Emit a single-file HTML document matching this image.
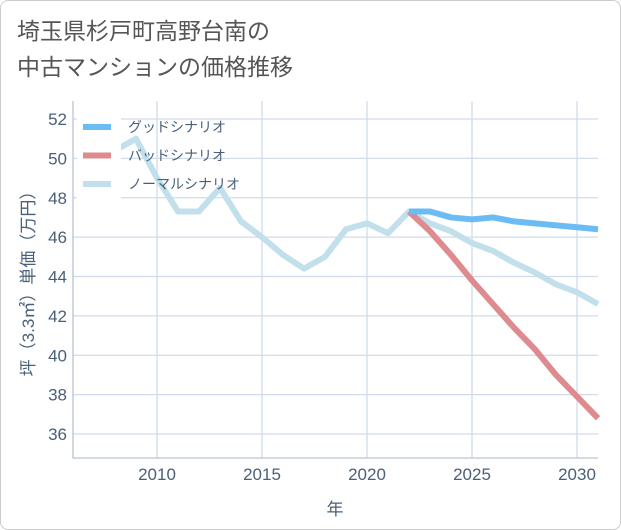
<!DOCTYPE html>
<html><head><meta charset="utf-8"><style>
body{margin:0;background:#fff;}
.wrap{position:relative;width:619px;height:528px;border:1px solid #ccc;border-radius:8px;background:#fff;font-family:"Liberation Sans","Noto Sans CJK JP",sans-serif;overflow:hidden}
.title{position:absolute;left:16px;top:12px;font-size:23px;line-height:36px;color:#555}
svg{position:absolute;left:0;top:0}
</style></head><body>
<div class="wrap">
<div class="title">埼玉県杉戸町高野台南の<br>中古マンションの価格推移</div>
<svg id="c" width="621" height="530"></svg>
</div>
<script>
const years=[2008,2009,2010,2011,2012,2013,2014,2015,2016,2017,2018,2019,2020,2021,2022,2023,2024,2025,2026,2027,2028,2029,2030,2031];
const normalVals=[50.4,51.0,49.0,47.3,47.3,48.5,46.8,46.0,45.1,44.4,45.0,46.4,46.7,46.2,47.3,46.7,46.3,45.7,45.3,44.7,44.2,43.6,43.2,42.6];
const futureYears=[2022,2023,2024,2025,2026,2027,2028,2029,2030,2031];
const goodVals=[47.3,47.3,47.0,46.9,47.0,46.8,46.7,46.6,46.5,46.4];
const badVals=[47.3,46.3,45.1,43.8,42.6,41.4,40.3,39.0,37.9,36.8];
const yTicks=[36,38,40,42,44,46,48,50,52];
const xTicks=[2010,2015,2020,2025,2030];
const L=72,R=597,T=100,B=457;
const x=v=>L+(v-2006)*(R-L)/25;
const y=v=>118+(52-v)*(433-118)/16;
const s=document.getElementById('c'),NS='http://www.w3.org/2000/svg';
function mk(t,a,p){const e=document.createElementNS(NS,t);for(const k in a)e.setAttribute(k,a[k]);(p||s).appendChild(e);return e;}
yTicks.forEach(v=>{const l=mk('line',{x1:L,x2:R,y1:y(v),y2:y(v),stroke:'#d0dcea','stroke-width':1.3});

const t=mk('text',{x:L-6,y:y(v)+6,'text-anchor':'end','font-size':17,fill:'#4a6078'});t.textContent=v;
});
xTicks.forEach(v=>{const l=mk('line',{x1:x(v),x2:x(v),y1:T,y2:B,stroke:'#d0dcea','stroke-width':1.3});

const t=mk('text',{x:x(v),y:B+22,'text-anchor':'middle','font-size':17,fill:'#4a6078'});t.textContent=v;
});
const ax=mk('path',{d:`M${L},${T}V${B}H${R}`,fill:'none',stroke:'#b8c4d0','stroke-width':1.3});

function line(xs,vs,c,n){const p=mk('polyline',{points:xs.map((d,i)=>x(d)+','+y(vs[i])).join(' '),fill:'none',stroke:c,'stroke-width':6,'stroke-linejoin':'round'});
}
line(years,normalVals,'#c2dfec','normal-scenario-line');
line(futureYears,badVals,'#de8b90','bad-scenario-line');
line(futureYears,goodVals,'#6bbcf2','good-scenario-line');
const leg=mk('rect',{x:76,y:108,width:44,height:90,fill:'#fff'});
[['グッドシナリオ','#6bbcf2'],['バッドシナリオ','#de8b90'],['ノーマルシナリオ','#c2dfec']].forEach((d,i)=>{
const yy=126+i*28.5;
const l=mk('line',{x1:82,x2:110,y1:yy,y2:yy,stroke:d[1],'stroke-width':6});

const t=mk('text',{x:127,y:yy+5,'font-size':14,fill:'#4a6078'});t.textContent=d[0];
});
const xt=mk('text',{x:334,y:514,'text-anchor':'middle','font-size':17,fill:'#4a6078'});xt.textContent='年';

const yt=mk('text',{x:0,y:0,'text-anchor':'middle','font-size':17,fill:'#4a6078',transform:`translate(33,${(T+B)/2}) rotate(-90)`});yt.textContent='坪（3.3㎡）単価（万円）';

</script>
</body></html>
